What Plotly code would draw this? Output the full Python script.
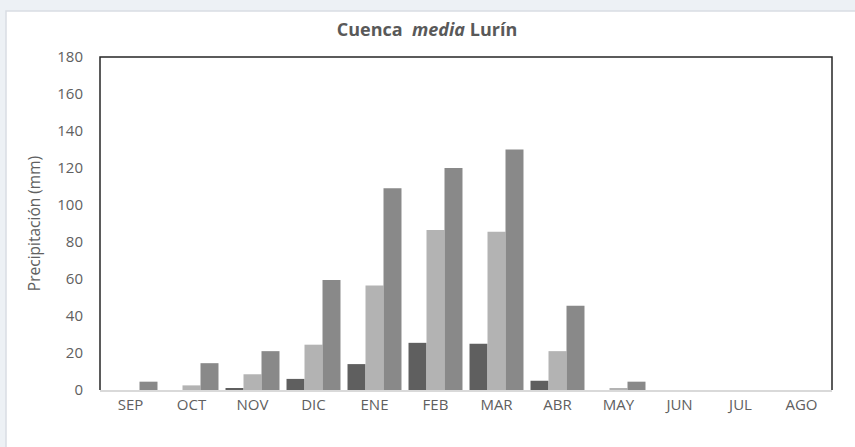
import plotly.graph_objects as go

months = ["SEP", "OCT", "NOV", "DIC", "ENE", "FEB", "MAR", "ABR", "MAY", "JUN", "JUL", "AGO"]
serie_a = [0, 0, 1, 6, 14, 25.5, 25, 5, 0, 0, 0, 0]
serie_b = [0, 2.5, 8.5, 24.5, 56.5, 86.5, 85.5, 21, 1, 0, 0, 0]
serie_c = [4.5, 14.5, 21, 59.5, 109, 120, 130, 45.5, 4.5, 0, 0, 0]
y_ticks = [0, 20, 40, 60, 80, 100, 120, 140, 160, 180]

colors = ["#5f5f5f", "#b3b3b3", "#898989"]
names = ["Serie 1", "Serie 2", "Serie 3"]

fig = go.Figure()
for vals, c, n in zip([serie_a, serie_b, serie_c], colors, names):
    fig.add_trace(go.Bar(x=months, y=vals, name=n, marker=dict(color=c, line=dict(width=0))))

W, H = 855, 447
L, R, T, B = 100, 23, 57, 57
pw, ph = W - L - R, H - T - B

def px(x):
    return (x - L) / pw

def py(y):
    return (H - B - y) / ph

fig.update_layout(
    width=W, height=H,
    margin=dict(l=L, r=R, t=T, b=B),
    paper_bgcolor="#edf1f5",
    plot_bgcolor="white",
    barmode="group",
    bargap=0.115,
    bargroupgap=0,
    showlegend=False,
    font=dict(family="Open Sans", color="#595959", size=15),
    title=dict(text="<b>Cuenca  <i>media</i> Lurín</b>", x=427 / W, xanchor="center",
               y=1 - 30 / H, yanchor="middle", font=dict(size=18, color="#595959")),
    xaxis=dict(showline=True, linecolor="#d9d9d9", linewidth=1.5, ticks="", showgrid=False,
               tickfont=dict(size=15, color="#606060")),
    yaxis=dict(range=[0, 180], tickvals=y_ticks, showgrid=False, zeroline=False, ticks="",
               showline=False, ticklabelstandoff=16,
               tickfont=dict(size=15, color="#606060"),
               title=dict(text="Precipitación (mm)", font=dict(size=15.5, color="#606060"), standoff=12)),
    shapes=[
        dict(type="rect", xref="paper", yref="paper", x0=px(6), x1=px(W + 5), y0=py(H + 5), y1=py(11),
             fillcolor="white", line=dict(color="#d9dde3", width=1.5), layer="below"),
        dict(type="path", xref="paper", yref="paper", path="M 0,0 L 0,1 L 1,1 L 1,0",
             line=dict(color="#262626", width=1.5), layer="above"),
    ],
)

fig.write_html("out.html", config={"displayModeBar": False},
               post_script="document.body.style.margin='0';document.body.style.overflow='hidden';")
